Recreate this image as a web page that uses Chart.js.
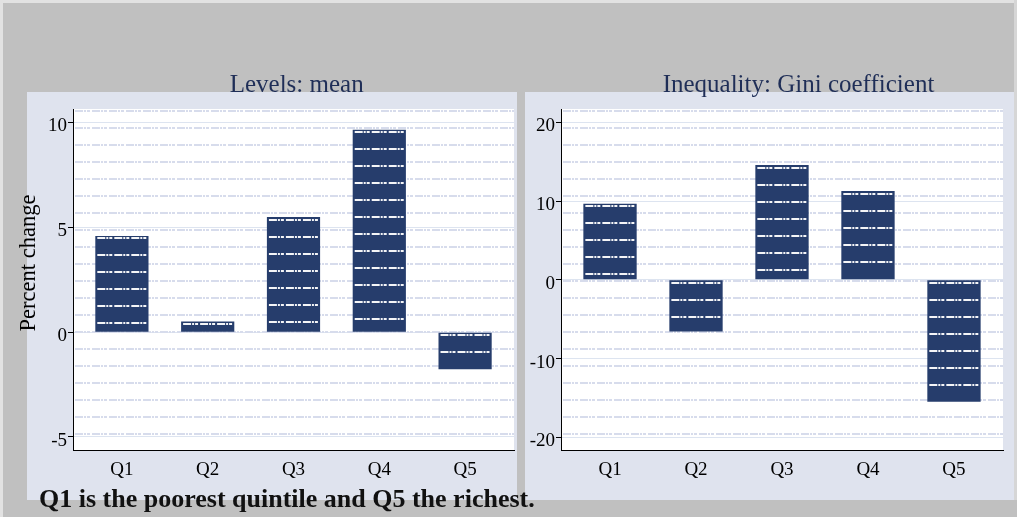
<!DOCTYPE html>
<html>
<head>
<meta charset="utf-8">
<script src="https://cdn.jsdelivr.net/npm/chart.js@4/dist/chart.umd.min.js"></script>
<style>
  html, body { margin: 0; padding: 0; }
  #root { position: relative; width: 1017px; height: 517px; background: #c0c0c0; overflow: hidden; font-family: "Liberation Serif", "DejaVu Serif", serif; }
  .strip { position: absolute; background: #e2e2e2; }
  .panel { position: absolute; background: #dfe3ee; }
  .panel canvas { position: absolute; left: 0; top: 0; }
  .title { position: absolute; font-size: 25px; line-height: 25px; color: #1f2e57; text-align: center; white-space: nowrap; z-index: 5; }
  #ylab { position: absolute; width: 200px; height: 22px; font-size: 22.5px; line-height: 22px; text-align: center; color: #000; transform: rotate(-90deg); z-index: 5; white-space: nowrap; }
  #foot { position: absolute; left: 39px; top: 486px; font-size: 26px; line-height: 26px; font-weight: bold; color: #111; white-space: nowrap; z-index: 6; }
</style>
</head>
<body>
<div id="root">
  <div class="strip" style="left:0;top:0;width:1017px;height:3px;"></div>
  <div class="strip" style="left:0;top:0;width:3px;height:517px;"></div>
  <div class="strip" style="left:1014px;top:0;width:3px;height:500px;background:#d6d6d6;"></div>

  <div class="panel" style="left:27px;top:92px;width:490px;height:408px;">
    <canvas id="cLeft" width="490" height="408"></canvas>
  </div>
  <div class="panel" style="left:525px;top:92px;width:489px;height:408px;">
    <canvas id="cRight" width="489" height="408"></canvas>
  </div>

  <div class="title" style="left:146.7px;top:71.4px;width:300px;">Levels: mean</div>
  <div class="title" style="left:623.5px;top:71.4px;width:350px;">Inequality: Gini coefficient</div>
  <div id="ylab" style="left:-72px;top:252px;">Percent change</div>
  <div id="foot">Q1 is the poorest quintile and Q5 the richest.</div>
</div>

<script>
// ---- data ----
const categories = ['Q1', 'Q2', 'Q3', 'Q4', 'Q5'];
const levelsMean = [4.59, 0.51, 5.49, 9.65, -1.77];
const giniChange = [9.66, -6.57, 14.58, 11.27, -15.47];
const levelsTicks = [-5, 0, 5, 10];
const giniTicks = [-20, -10, 0, 10, 20];
const levelsRange = [-5.62, 10.64];
const giniRange = [-21.61, 21.7];
const categoryRange = [-0.57, 4.57];

// ---- styles ----
const FONT = '"Liberation Serif", "DejaVu Serif", serif';
const NAVY = '#263d6c';
const GRID = '#dde4f0';
const BG_DASH = '#d7dcec';
const BAR_DASH = 'rgba(255,255,255,0.95)';
const DASH = [8, 1, 2, 1, 3, 2];
const ROW_STEP = 17;

function dashedRow(ctx, x1, x2, y) {
  ctx.beginPath();
  ctx.moveTo(x1, y);
  ctx.lineTo(x2, y);
  ctx.stroke();
}

const stataPattern = {
  id: 'stataPattern',
  beforeDraw(chart) {
    const { ctx, chartArea: a } = chart;
    ctx.save();
    ctx.fillStyle = '#ffffff';
    ctx.fillRect(a.left, a.top, a.right - a.left, a.bottom - a.top);
    ctx.restore();
  },
  beforeDatasetsDraw(chart) {
    const { ctx, chartArea: a } = chart;
    ctx.save();
    ctx.strokeStyle = BG_DASH;
    ctx.lineWidth = 2;
    ctx.setLineDash(DASH);
    for (let y = a.top + 2.4; y < a.bottom - 1; y += ROW_STEP) {
      dashedRow(ctx, a.left + 2, a.right, Math.round(y));
    }
    ctx.restore();
  },
  afterDatasetsDraw(chart) {
    const { ctx } = chart;
    const meta = chart.getDatasetMeta(0);
    ctx.save();
    ctx.strokeStyle = BAR_DASH;
    ctx.lineWidth = 2;
    ctx.setLineDash(DASH);
    meta.data.forEach(el => {
      const p = el.getProps(['x', 'y', 'base', 'width'], true);
      const top = Math.min(p.y, p.base), bottom = Math.max(p.y, p.base);
      const left = p.x - p.width / 2, right = p.x + p.width / 2;
      for (let y = top + 2.5; y < bottom - 1; y += ROW_STEP) {
        dashedRow(ctx, left + 2, right - 2, Math.round(y));
      }
    });
    ctx.restore();
  }
};

function makeChart(id, values, yTicks, yRange, axisWidth, padRight) {
  return new Chart(document.getElementById(id), {
    type: 'bar',
    data: {
      datasets: [{
        data: categories.map((c, i) => ({ x: i, y: values[i] })),
        backgroundColor: NAVY,
        borderWidth: 0,
        barPercentage: 0.62,
        categoryPercentage: 1
      }]
    },
    options: {
      responsive: false,
      animation: false,
      layout: { padding: { left: 0, right: padRight, top: 17, bottom: 0 } },
      plugins: { legend: { display: false }, tooltip: { enabled: false }, title: { display: false } },
      scales: {
        x: {
          type: 'linear',
          offset: false,
          min: categoryRange[0],
          max: categoryRange[1],
          grid: { display: false, drawTicks: false, offset: false },
          border: { display: true, color: '#000', width: 1 },
          afterBuildTicks: s => { s.ticks = categories.map((c, i) => ({ value: i })); },
          afterFit: s => { s.height = 50; },
          ticks: {
            callback: (v, i) => categories[i],
            font: { family: FONT, size: 19 },
            color: '#000',
            padding: 9,
            maxRotation: 0,
            autoSkip: false
          }
        },
        y: {
          min: yRange[0],
          max: yRange[1],
          afterBuildTicks: s => { s.ticks = yTicks.map(v => ({ value: v })); },
          afterFit: s => { s.width = axisWidth; },
          grid: { color: GRID, lineWidth: 1, tickColor: '#000', tickLength: 5, drawTicks: true },
          border: { display: true, color: '#000', width: 1 },
          ticks: {
            font: { family: FONT, size: 19 },
            color: '#000',
            padding: 1,
            labelOffset: 4,
            callback: v => String(v)
          }
        }
      }
    },
    plugins: [stataPattern]
  });
}

makeChart('cLeft', levelsMean, levelsTicks, levelsRange, 46, 3);
makeChart('cRight', giniChange, giniTicks, giniRange, 36, 11);
</script>
</body>
</html>
